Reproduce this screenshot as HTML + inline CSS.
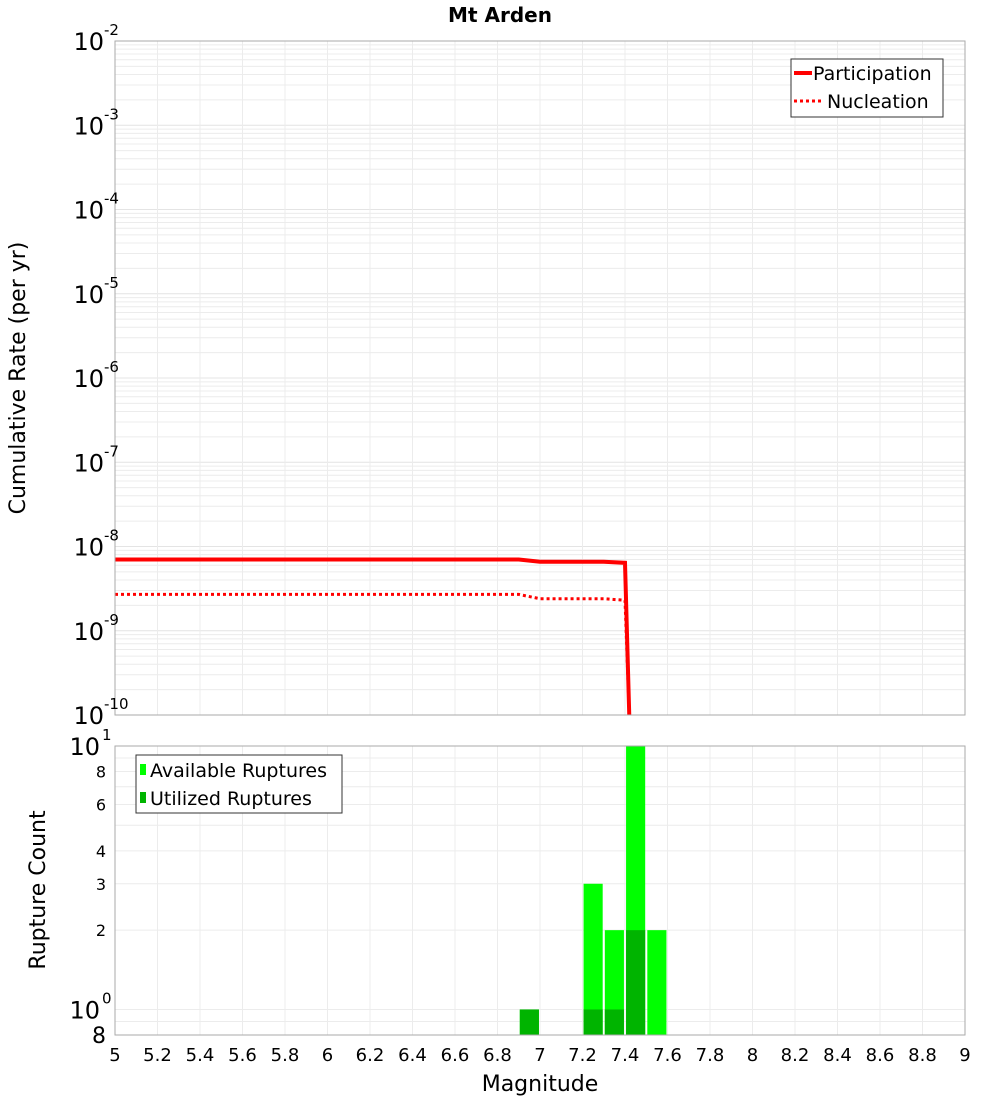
<!DOCTYPE html>
<html><head><meta charset="utf-8"><style>
body{margin:0;background:#fff;font-family:"Liberation Sans","DejaVu Sans",sans-serif}
</style></head><body>
<svg id="c" width="1000" height="1100" xmlns="http://www.w3.org/2000/svg" font-family="DejaVu Sans, Liberation Sans, sans-serif">
<text x="500" y="22" text-anchor="middle" font-size="20" font-weight="bold">Mt Arden</text>
<g id="topg"></g><g id="botg"></g>
</svg>
<script>
const mags=[5,6.9,7.0,7.3,7.4,7.42];
const partRates=[7e-9,7e-9,6.6e-9,6.6e-9,6.4e-9,1e-10];
const nuclRates=[2.7e-9,2.7e-9,2.4e-9,2.4e-9,2.3e-9,1e-10];
const binCenters=[6.95,7.25,7.35,7.45,7.55];
const availCounts=[1,3,2,10,2];
const utilCounts=[1,1,1,2,0];
const xTicks=[5,5.2,5.4,5.6,5.8,6,6.2,6.4,6.6,6.8,7,7.2,7.4,7.6,7.8,8,8.2,8.4,8.6,8.8,9];
const yExps=[-10,-9,-8,-7,-6,-5,-4,-3,-2];
const bTicks=[2,3,4,6,8];
const NS='http://www.w3.org/2000/svg';
const L=115,R=965,T1=41,B1=715,T2=746,B2=1035;
const xs=m=>L+(m-5)/4*(R-L);
const y1=v=>B1-(Math.log10(v)+10)/8*(B1-T1);
const y2=v=>B2-(Math.log10(v)-Math.log10(0.8))/(1-Math.log10(0.8))*(B2-T2);
function mk(p,tag,a,txt){const e=document.createElementNS(NS,tag);for(const k in a)e.setAttribute(k,a[k]);if(txt!=null)e.textContent=txt;p.appendChild(e);return e;}
const gTop=document.getElementById('topg'),gBot=document.getElementById('botg');
for(let e=-10;e<-2;e++)for(let k=1;k<10;k++){const yy=y1(k*Math.pow(10,e));mk(gTop,'line',{x1:L,x2:R,y1:yy,y2:yy,stroke:k==1?'#e4e4e4':'#ececec','stroke-width':1});}
xTicks.forEach(m=>{mk(gTop,'line',{x1:xs(m),x2:xs(m),y1:T1,y2:B1,stroke:'#ececec'});mk(gBot,'line',{x1:xs(m),x2:xs(m),y1:T2,y2:B2,stroke:'#ececec'});});
[0.8,0.9,1,2,3,4,5,6,7,8,9].forEach(v=>mk(gBot,'line',{x1:L,x2:R,y1:y2(v),y2:y2(v),stroke:'#ececec'}));
const pp=mags.map((m,i)=>xs(m)+','+y1(partRates[i])).join(' ');
const np=mags.map((m,i)=>xs(m)+','+y1(nuclRates[i])).join(' ');
let el=mk(gTop,'polyline',{points:pp,fill:'none',stroke:'#f00','stroke-width':4});


el=mk(gTop,'polyline',{points:np,fill:'none',stroke:'#f00','stroke-width':3,'stroke-dasharray':'3,3'});


mk(gTop,'rect',{x:L,y:T1,width:R-L,height:B1-T1,fill:'none',stroke:'#aaa'});
yExps.forEach(e=>{const t=mk(gTop,'text',{x:104,y:y1(Math.pow(10,e))+9,'text-anchor':'end','font-size':24},'10');


mk(gTop,'text',{x:104,y:y1(Math.pow(10,e))-6,'font-size':15,'text-anchor':'start'},String(e));});
const bw=xs(5.09)-L;
binCenters.forEach((c,i)=>{if(availCounts[i]>0){const b=mk(gBot,'rect',{x:xs(c-0.045),y:y2(availCounts[i]),width:bw,height:B2-y2(availCounts[i]),fill:'#00ff00'});

}
if(utilCounts[i]>0){const b=mk(gBot,'rect',{x:xs(c-0.045),y:y2(utilCounts[i]),width:bw,height:B2-y2(utilCounts[i]),fill:'#00b400'});

}});
mk(gBot,'rect',{x:L,y:T2,width:R-L,height:B2-T2,fill:'none',stroke:'#aaa'});
bTicks.forEach(v=>{const t=mk(gBot,'text',{x:106,y:y2(v)+6,'text-anchor':'end','font-size':16},String(v));

});
mk(gBot,'text',{x:100,y:y2(1)+9,'text-anchor':'end','font-size':24},'10');mk(gBot,'text',{x:102,y:y2(1)-6,'font-size':15},'0');
mk(gBot,'text',{x:100,y:y2(10)+9,'text-anchor':'end','font-size':24},'10');mk(gBot,'text',{x:102,y:y2(10)-6,'font-size':15},'1');
mk(gBot,'text',{x:106,y:1043,'text-anchor':'end','font-size':22},'8');
xTicks.forEach(m=>{const t=mk(gBot,'text',{x:xs(m),y:1061,'text-anchor':'middle','font-size':18},String(m));

});
</script>
<svg style="position:absolute;left:0;top:0" width="1000" height="1100" xmlns="http://www.w3.org/2000/svg" font-family="DejaVu Sans, Liberation Sans, sans-serif">
<text x="540" y="1091" text-anchor="middle" font-size="22">Magnitude</text>
<text transform="translate(25,378) rotate(-90)" text-anchor="middle" font-size="22">Cumulative Rate (per yr)</text>
<text transform="translate(45,890) rotate(-90)" text-anchor="middle" font-size="22">Rupture Count</text>
<g>
<rect x="791" y="59" width="152" height="58" fill="#fff" stroke="#333"/>
<line x1="794" y1="73" x2="812" y2="73" stroke="#f00" stroke-width="4"/>
<text x="813" y="80" font-size="19">Participation</text>
<line x1="794" y1="101" x2="822" y2="101" stroke="#f00" stroke-width="3" stroke-dasharray="3,3"/>
<text x="827" y="108" font-size="19">Nucleation</text></g>
<g>
<rect x="136" y="755" width="206" height="58" fill="#fff" stroke="#333"/>
<rect x="140" y="764" width="6" height="11" fill="#00ff00"/>
<text x="150" y="777" font-size="19">Available Ruptures</text>
<rect x="140" y="792" width="6" height="11" fill="#00b400"/>
<text x="150" y="805" font-size="19">Utilized Ruptures</text></g>
</svg>
</body></html>
